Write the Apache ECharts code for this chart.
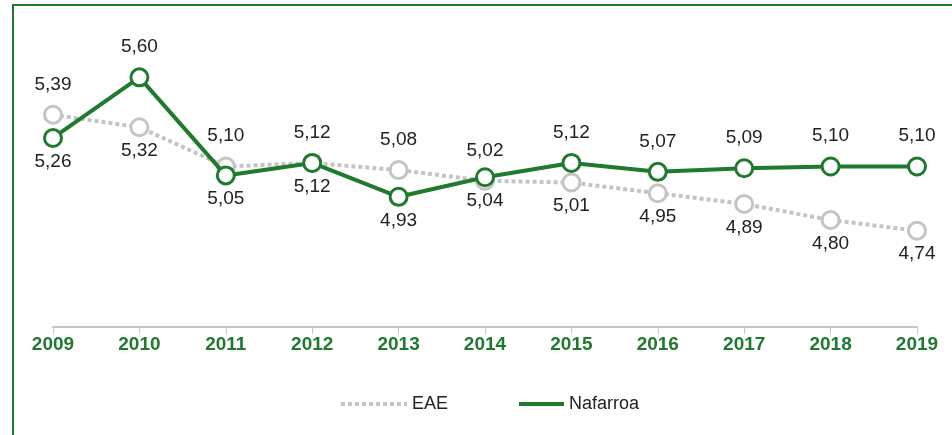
<!DOCTYPE html>
<html>
<head>
<meta charset="utf-8">
<script src="https://cdn.jsdelivr.net/npm/echarts@6/dist/echarts.min.js"></script>
<style>
	html, body { margin: 0; padding: 0; background: #fff; }
	#chart { width: 952px; height: 435px; }
</style>
</head>
<body>
<div id="chart"></div>
<script>
var years = ['2009', '2010', '2011', '2012', '2013', '2014', '2015', '2016', '2017', '2018', '2019'];
var eae = [5.39, 5.32, 5.10, 5.12, 5.08, 5.02, 5.01, 4.95, 4.89, 4.80, 4.74];
var nafarroa = [5.26, 5.60, 5.05, 5.12, 4.93, 5.04, 5.12, 5.07, 5.09, 5.10, 5.10];
// label above (true) or below (false) the EAE point; Nafarroa takes the other side
var eaeTop = [true, false, true, true, true, true, false, false, false, false, false];

var green = '#1f7a2e';
var grey = '#c4c4c4';

function withLabels(values, tops) {
	return values.map(function (v, i) {
		var top = tops[i];
		return {
			value: v,
			label: { position: top ? 'top' : 'bottom', distance: top ? 11 : 4 }
		};
	});
}

function fmt(p) {
	return p.value.toFixed(2).replace('.', ',');
}

var myChart = echarts.init(document.getElementById('chart'));
var option = {
	animation: false,
	grid: {
		left: 53,
		right: 35,
		top: 6,
		bottom: 108
	},
	graphic: [
		{
			type: 'rect',
			shape: { x: 13, y: 5, width: 1200, height: 1200 },
			style: { fill: 'none', stroke: green, lineWidth: 2 }
		}
	],
	legend: [
		{
			data: [{ name: 'EAE', itemStyle: { opacity: 0 }, lineStyle: { width: 4 } }],
			left: 334,
			top: 390,
			itemWidth: 66,
			itemHeight: 18,
			itemGap: 12,
			textStyle: { fontSize: 18, color: '#222', fontFamily: 'Liberation Sans' }
		},
		{
			data: [{ name: 'Nafarroa', itemStyle: { opacity: 0 }, lineStyle: { width: 4 } }],
			left: 512,
			top: 390,
			itemWidth: 45,
			itemHeight: 18,
			textStyle: { fontSize: 18, color: '#222', fontFamily: 'Liberation Sans' }
		}
	],
	xAxis: {
		type: 'category',
		boundaryGap: false,
		data: years,
		axisLine: { lineStyle: { color: '#c8c8c8', width: 2 } },
		axisTick: { show: true, length: 7, lineStyle: { color: '#c8c8c8', width: 1 } },
		axisLabel: {
			color: green,
			fontWeight: 'bold',
			fontSize: 19,
			fontFamily: 'Liberation Sans',
			margin: 8
		}
	},
	yAxis: {
		type: 'value',
		min: 4.2,
		max: 6.0,
		show: false,
		splitLine: { show: false }
	},
	series: [
		{
			name: 'EAE',
			type: 'line',
			data: withLabels(eae, eaeTop),
			symbol: 'circle',
			symbolSize: 17,
			lineStyle: { color: grey, width: 4, type: [4, 3] },
			itemStyle: { color: '#fff', borderColor: grey, borderWidth: 3 },
			label: {
				show: true,
				fontSize: 19,
				color: '#222',
				fontFamily: 'Liberation Sans',
				formatter: fmt
			},
			z: 2
		},
		{
			name: 'Nafarroa',
			type: 'line',
			data: withLabels(nafarroa, eaeTop.map(function (t) { return !t; })),
			symbol: 'circle',
			symbolSize: 17,
			lineStyle: { color: green, width: 4 },
			itemStyle: { color: '#fff', borderColor: green, borderWidth: 3 },
			label: {
				show: true,
				fontSize: 19,
				color: '#222',
				fontFamily: 'Liberation Sans',
				formatter: fmt
			},
			z: 3
		}
	]
};
myChart.setOption(option);
</script>
</body>
</html>
